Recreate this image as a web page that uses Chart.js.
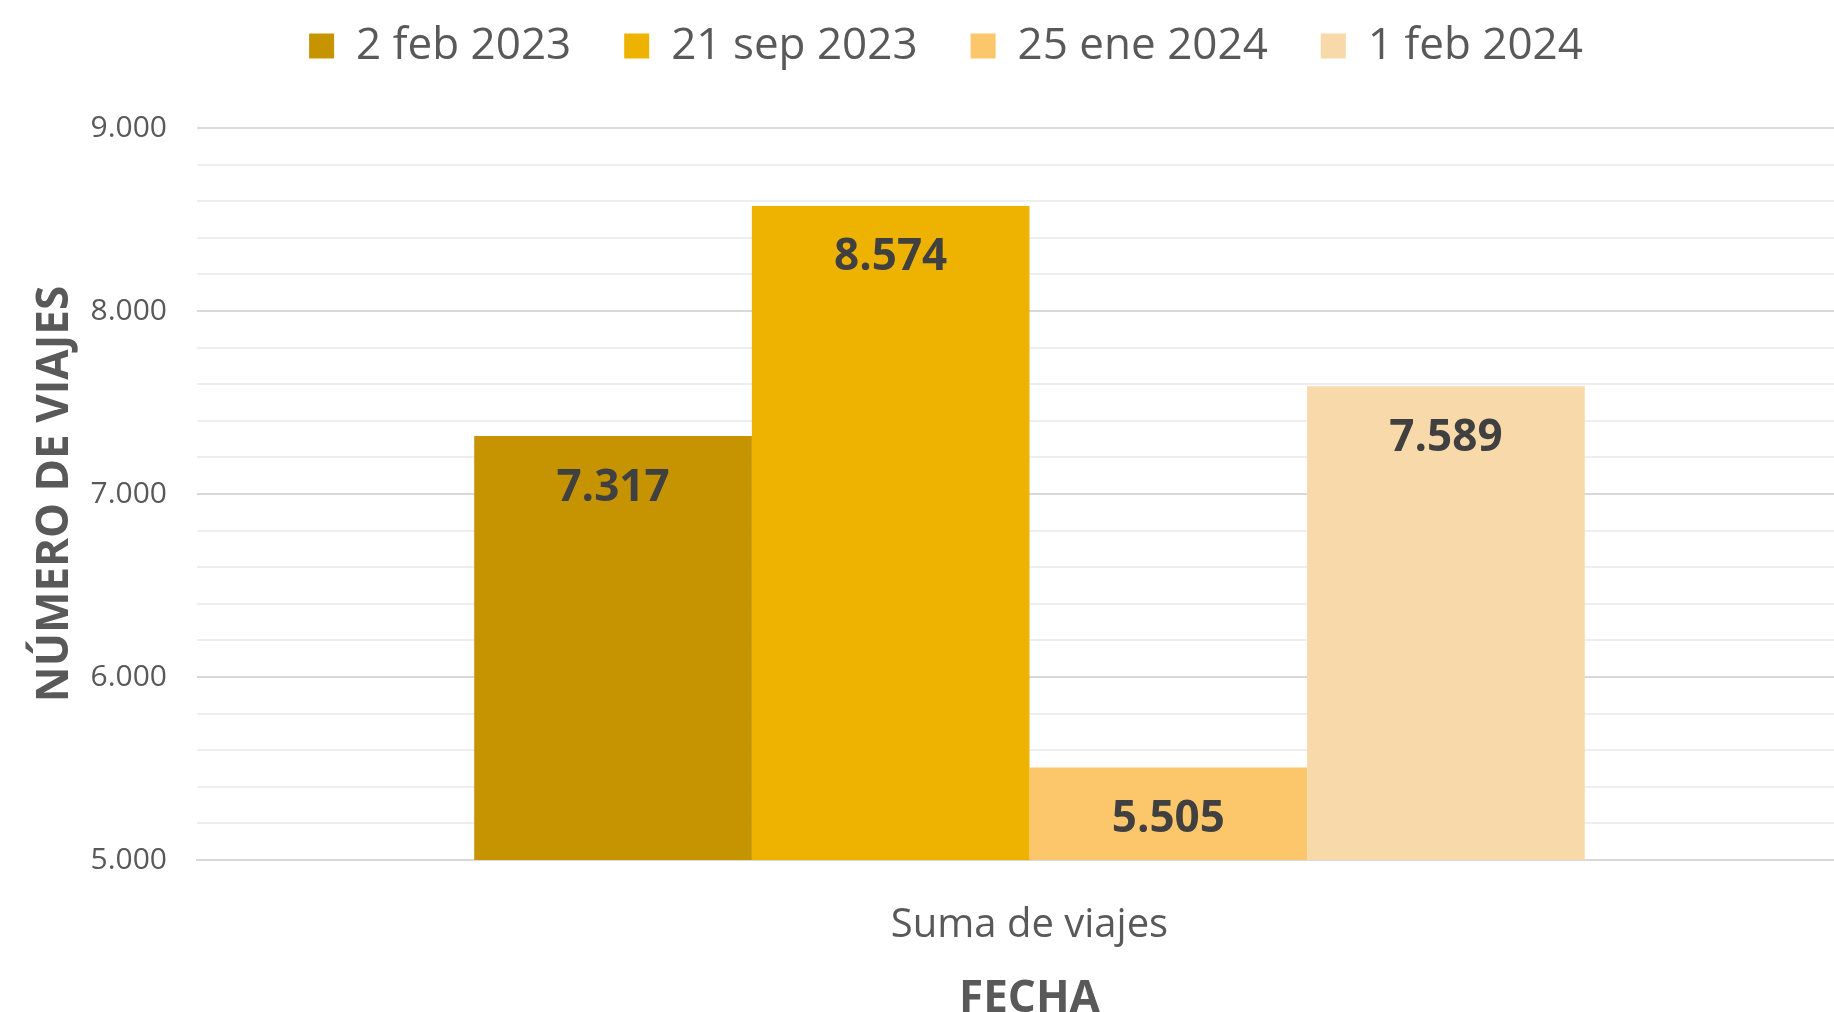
<!DOCTYPE html>
<html>
<head>
<meta charset="utf-8">
<script src="https://cdn.jsdelivr.net/npm/chart.js@4.4.1/dist/chart.umd.min.js"></script>
<style>
  html, body { margin: 0; padding: 0; background: #ffffff; overflow: hidden; }
  #wrap { width: 1862px; height: 1026px; }
</style>
</head>
<body>
<div id="wrap"><canvas id="viajesChart" width="1862" height="1026"></canvas></div>
<script>
// data
var categories = ['Suma de viajes'];
var seriesNames = ['2 feb 2023', '21 sep 2023', '25 ene 2024', '1 feb 2024'];
var seriesValues = [[7317], [8574], [5505], [7589]];
var seriesColors = ['#C59400', '#EEB200', '#FCC66B', '#F8D9A9'];
var yTicks = [5000, 6000, 7000, 8000, 9000];

var FONT = "'Open Sans', 'Noto Sans', sans-serif";

// 9000 -> "9.000"
function fmt(v) {
    return String(v).replace(/\B(?=(\d{3})+(?!\d))/g, '.');
}

// value labels inside the top of each bar
var barLabels = {
    id: 'barLabels',
    afterDatasetsDraw(chart) {
        var ctx = chart.ctx;
        ctx.save();
        ctx.font = "bold 44px " + FONT;
        ctx.fillStyle = '#404040';
        ctx.textAlign = 'center';
        ctx.textBaseline = 'middle';
        chart.data.datasets.forEach(function (ds, i) {
            var meta = chart.getDatasetMeta(i);
            meta.data.forEach(function (bar, j) {
                ctx.fillText(fmt(ds.data[j]), bar.x, bar.y + 52);
            });
        });
        ctx.restore();
    }
};

// extra room under the legend
var legendGap = {
    id: 'legendGap',
    beforeInit(chart) {
        var fit = chart.legend.fit;
        chart.legend.fit = function () {
            fit.bind(chart.legend)();
            this.height += 50;
        };
    }
};

var datasets = seriesNames.map(function (name, i) {
    return {
        label: name,
        data: seriesValues[i],
        backgroundColor: seriesColors[i],
        borderWidth: 0,
        barPercentage: 1.0,
        categoryPercentage: 0.667
    };
});

var ctx = document.getElementById('viajesChart');
var myChart = new Chart(ctx, {
    type: 'bar',
    data: {
        labels: categories,
        datasets: datasets
    },
    options: {
        responsive: false,
        animation: false,
        devicePixelRatio: 1,
        layout: {
            padding: { top: -29, left: 30, right: 0, bottom: 0 }
        },
        plugins: {
            tooltip: { enabled: false },
            legend: {
                position: 'top',
                labels: {
                    font: { family: FONT, size: 44 },
                    color: '#595959',
                    boxWidth: 25,
                    boxHeight: 25,
                    padding: 53
                }
            }
        },
        scales: {
            x: {
                afterFit: function (scale) { scale.height = 166; },
                grid: { display: false },
                border: { display: true, color: '#d9d9d9', width: 2 },
                ticks: {
                    font: { family: FONT, size: 40 },
                    color: '#595959',
                    padding: 34
                },
                title: {
                    display: true,
                    text: 'FECHA',
                    font: { family: FONT, size: 44, weight: 'bold' },
                    color: '#595959',
                    padding: { top: 0, bottom: 0 }
                }
            },
            y: {
                min: 5000,
                max: 9000,
                afterFit: function (scale) { scale.width = 167; },
                border: { display: false },
                grid: {
                    drawTicks: false,
                    lineWidth: 2,
                    color: function (c) {
                        return (c.tick && c.tick.value % 1000 === 0) ? '#d9d9d9' : '#eeeeee';
                    }
                },
                ticks: {
                    stepSize: 200,
                    autoSkip: false,
                    padding: 30,
                    font: { family: FONT, size: 30 },
                    color: '#595959',
                    callback: function (v) {
                        return yTicks.indexOf(v) >= 0 ? fmt(v) : '';
                    }
                },
                title: {
                    display: true,
                    text: 'NÚMERO DE VIAJES',
                    font: { family: FONT, size: 44, weight: 'bold' },
                    color: '#595959',
                    padding: { top: -1, bottom: 0 }
                }
            }
        }
    },
    plugins: [barLabels, legendGap]
});
</script>
</body>
</html>
